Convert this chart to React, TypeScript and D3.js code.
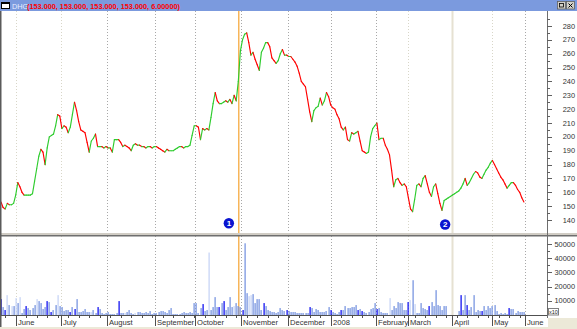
import React from "react";
import * as d3 from "d3";

// Daily closing prices (DHG), June 2007 – May 2008
const prices = [
  153, 149, 148, 152, 151, 151, 152, 158, 167, 164,
  160, 158, 158, 158, 158, 159, 168, 177, 186, 191,
  189, 180, 192, 200, 201, 202, 208, 216, 215, 206,
  208, 207, 203, 207, 216, 225, 219, 211, 205, 204,
  203, 196, 189, 197, 199, 202, 193, 193, 193, 192,
  193, 192, 192, 189, 198, 198, 198, 196, 193, 194,
  193, 192, 190, 194, 195, 194, 194, 193, 193, 192,
  193, 193, 192, 193, 193, 192, 191, 190, 189, 191,
  190, 190, 190, 191, 192, 193, 193, 192, 193, 193,
  194, 201, 208, 208, 207, 198, 206, 205, 206, 205,
  214, 224, 232, 226, 224, 224, 225, 226, 225, 227,
  224, 230, 226, 240, 262, 270, 274, 275, 268, 259,
  261, 256, 252, 248, 261, 264, 268, 268, 265, 257,
  255, 253, 255, 260, 263, 259, 259, 258, 258, 256,
  254, 251, 246, 240, 238, 236, 227, 218, 211, 219,
  221, 222, 228, 223, 226, 232, 229, 223, 221, 220,
  216, 213, 207, 205, 207, 198, 197, 203, 202, 203,
  204, 197, 190, 189, 188, 189, 200, 206, 208, 210,
  198, 199, 199, 194, 191, 187, 176, 164, 169, 170,
  167, 165, 166, 164, 156, 148, 146, 155, 165, 166,
  164, 170, 172, 166, 160, 157, 164, 166, 159, 152,
  147, 154, 155, 156, 157, 158, 159, 160, 161, 163,
  166, 170, 165, 167, 170, 173, 175, 174, 171, 170,
  173, 176, 178, 181, 183, 180, 177, 174, 171, 169,
  166, 163, 165, 167, 167, 165, 162, 160, 156, 153,
];

// Daily volumes (axis shown x10)
const volumes = [
  11200, 5600, 3500, 14000, 7000, 6300, 6300, 11900, 8400, 12600,
  1400, 4200, 6300, 4900, 3500, 4900, 7000, 11200, 9800, 8400,
  4200, 5600, 9800, 9100, 2100, 3500, 7000, 14000, 6300, 5600,
  2800, 3500, 3500, 2100, 5600, 4200, 11200, 2100, 2100, 2800,
  4200, 2100, 2100, 2100, 3500, 1400, 5600, 4200, 1400, 700,
  1400, 2100, 700, 700, 700, 1400, 9800, 1400, 1400, 1400,
  2100, 3500, 1400, 700, 1400, 2100, 2100, 1400, 1400, 2100,
  1400, 2800, 700, 1400, 1400, 2100, 2800, 2800, 2100, 1400,
  3500, 4900, 700, 700, 700, 700, 1400, 2100, 1400, 1400,
  2100, 1400, 8400, 8400, 1400, 4900, 7700, 2800, 3500, 44000,
  3500, 5600, 12600, 5600, 5600, 8400, 9800, 3500, 5600, 12600,
  5600, 6300, 8400, 6300, 5600, 3500, 50500, 15400, 13300, 14000,
  14700, 8400, 11200, 11200, 3500, 8400, 6300, 3500, 2800, 2100,
  2100, 1400, 2100, 4900, 3500, 2800, 3500, 2800, 2100, 2100,
  2100, 1400, 1400, 1400, 1400, 1400, 1400, 5600, 4900, 2100,
  4200, 3500, 2100, 2100, 2100, 2800, 5600, 3500, 2100, 1400,
  700, 2100, 3500, 3500, 6300, 4900, 4900, 5600, 5600, 7000,
  3500, 4200, 2800, 2100, 1400, 2100, 4200, 4900, 8400, 4200,
  4900, 2100, 1400, 1400, 1400, 11900, 3500, 6300, 4900, 9100,
  8400, 8400, 3500, 3500, 9100, 10500, 24500, 7700, 1400, 1400,
  8400, 4900, 4200, 3500, 6300, 9100, 6300, 17500, 7000, 6300,
  3500, 6300, 6300, 0, 0, 0, 0, 0, 2800, 14000,
  3500, 14000, 7000, 3500, 5600, 14000, 2100, 3500, 2800, 2800,
  6300, 3500, 6300, 4900, 6300, 7000, 2800, 700, 1400, 700,
  1400, 700, 4900, 4200, 4200, 1400, 2800, 2100, 2100, 2100,
];

// Volume bar shades (indices of dark and light bars; others medium)
const darkBars = [0, 2, 12, 22, 24, 33, 35, 46, 56, 96, 104, 106, 115, 125, 136, 147, 157, 162, 170, 172, 179, 194, 204, 219, 222, 229, 242];
const lightBars = [3, 5, 7, 9, 17, 27, 43, 59, 64, 99, 111, 118, 119, 185, 195, 197];

// Month boundaries on the trading-day axis
const monthTicks = [7, 28.5, 50.5, 73.5, 92.5, 114.5, 136.5, 157, 178.5, 194, 215, 234, 249.5];
const monthLabels = ["June", "July", "August", "September", "October", "November", "December", "2008", "February", "March", "April", "May", "June"];

const priceTicks = [140, 150, 160, 170, 180, 190, 200, 210, 220, 230, 240, 250, 260, 270, 280];
const volumeTicks = [10000, 20000, 30000, 40000, 50000];

// Event markers (trading-day index)
const markerDays = [108.5, 211.5];
const markerLabels = ["1", "2"];
const signalDay = 113;

const W = 577;
const H = 329;
const AXIS_X = 547;
const FONT = "'Liberation Sans', Arial, sans-serif";

export default function App() {
  const x = d3.scaleLinear().domain([0, prices.length - 1]).range([1, 523.9]);
  const y = d3.scaleLinear().domain([140, 280]).range([220, 26]);
  const vy = d3.scaleLinear().domain([0, 50000]).range([315, 244]);

  const lightGrid = new Set([0, 1, 9, 11]);
  const minorPrice = d3.range(145, 295, 10);
  const minorVol = d3.range(5000, 55000, 10000);
  const weekTicks = d3.range(2, prices.length, 5);
  const darkSet = new Set(darkBars);
  const lightSet = new Set(lightBars);

  return (
    <div style={{ position: "fixed", left: 0, top: 0 }}>
      <svg width={W} height={H} style={{ display: "block" }}>
        <rect x={0} y={0} width={W} height={H} fill="#ffffff" />
        <rect x={0} y={327} width={W} height={2} fill="#ece9d8" />
        <rect x={548} y={318} width={29} height={11} fill="#ece9d8" />

        {/* month gridlines */}
        {monthTicks.map((m, k) =>
          k === 10 ? (
            <line key={k} x1={x(m)} x2={x(m)} y1={11} y2={315} stroke="#e6e1d2" strokeWidth={2} />
          ) : (
            <line
              key={k}
              x1={Math.round(x(m)) + 0.5}
              x2={Math.round(x(m)) + 0.5}
              y1={11}
              y2={315}
              stroke={lightGrid.has(k) ? "#d8d6c8" : "#a8a8a8"}
              strokeWidth={1}
              strokeDasharray="1,2"
            />
          )
        )}

        {/* signal line */}
        <line x1={x(signalDay) + 0.5} x2={x(signalDay) + 0.5} y1={11} y2={316} stroke="#f5a330" strokeWidth={1.2} />

        {/* price line */}
        {prices.slice(1).map((p, k) => {
          const i = k + 1;
          const up = p >= prices[i - 1];
          return (
            <line
              key={i}
              x1={x(i - 1)}
              y1={y(prices[i - 1])}
              x2={x(i)}
              y2={y(p)}
              stroke={up ? "#2ecc2e" : "#ff0000"}
              strokeWidth={1.15}
              strokeLinecap="round"
            />
          );
        })}

        {/* markers */}
        {markerDays.map((d, k) => (
          <g key={k} transform={`translate(${x(d)},${k === 0 ? 223.3 : 224.5})`}>
            <circle r={5.2} fill="#0a14d0" />
            <text y={2.8} textAnchor="middle" fontFamily={FONT} fontSize={8} fontWeight="bold" fill="#ffffff">
              {markerLabels[k]}
            </text>
          </g>
        ))}

        {/* volume bars */}
        {volumes.map((v, i) =>
          v > 0 ? (
            <rect
              key={i}
              x={Math.round(x(i)) - 0.5}
              y={vy(v)}
              width={1.2}
              height={315 - vy(v)}
              fill={darkSet.has(i) ? "#0000f0" : lightSet.has(i) ? "#c4d2f6" : "#6f8ede"}
            />
          ) : null
        )}

        {/* panel separator */}
        <rect x={0} y={233} width={W} height={2} fill="#d0ccc4" />
        <rect x={0} y={235} width={W} height={1.5} fill="#6e6e6e" />

        {/* right axis */}
        <line x1={AXIS_X + 0.5} x2={AXIS_X + 0.5} y1={11} y2={318} stroke="#6e6e6e" strokeWidth={1} />
        {priceTicks.map((t) => (
          <g key={t}>
            <line x1={AXIS_X} x2={AXIS_X + 5} y1={Math.round(y(t)) + 0.5} y2={Math.round(y(t)) + 0.5} stroke="#606060" />
            <text x={575} y={y(t) + 2.6} textAnchor="end" fontFamily={FONT} fontSize={7.4} fill="#333">
              {t}
            </text>
          </g>
        ))}
        {minorPrice.map((t) => (
          <line key={t} x1={AXIS_X} x2={AXIS_X + 3} y1={Math.round(y(t)) + 0.5} y2={Math.round(y(t)) + 0.5} stroke="#606060" />
        ))}
        {volumeTicks.map((t) => (
          <g key={t}>
            <line x1={AXIS_X} x2={AXIS_X + 5} y1={Math.round(vy(t)) + 0.5} y2={Math.round(vy(t)) + 0.5} stroke="#606060" />
            <text x={575} y={vy(t) + 2.6} textAnchor="end" fontFamily={FONT} fontSize={7.4} fill="#333">
              {t}
            </text>
          </g>
        ))}
        {minorVol.map((t) => (
          <line key={t} x1={AXIS_X} x2={AXIS_X + 3} y1={Math.round(vy(t)) + 0.5} y2={Math.round(vy(t)) + 0.5} stroke="#606060" />
        ))}
        <rect x={548.5} y={308.5} width={10} height={6.5} fill="#ffffff" stroke="#808080" />
        <text x={553.5} y={314} textAnchor="middle" fontFamily={FONT} fontSize={5.5} fill="#222">
          x10
        </text>

        {/* bottom axis */}
        <line x1={0} x2={AXIS_X} y1={315.5} y2={315.5} stroke="#505050" />
        {weekTicks.map((w) => (
          <line key={w} x1={Math.round(x(w)) + 0.5} x2={Math.round(x(w)) + 0.5} y1={315} y2={318} stroke="#505050" />
        ))}
        {monthTicks.map((m, k) => (
          <g key={k}>
            <line x1={Math.round(x(m)) + 0.5} x2={Math.round(x(m)) + 0.5} y1={315} y2={326} stroke="#505050" />
            <text x={Math.round(x(m)) + 2} y={325} fontFamily={FONT} fontSize={7.6} fill="#333">
              {monthLabels[k]}
            </text>
          </g>
        ))}

        {/* title bar */}
        <rect x={0} y={0} width={W} height={11} fill="#7b9ade" />
        <rect x={1.5} y={2.5} width={8} height={6} fill="#ffffff" stroke="#000" />
        <rect x={1.5} y={2.5} width={8} height={1.5} fill="#000" />
        <text x={12} y={8.6} fontFamily={FONT} fontSize={7.3} fill="#e8eeff">
          DHG
        </text>
        <text x={27} y={8.6} fontFamily={FONT} fontSize={7.3} fontWeight="bold" fill="#ff0000">
          (153.000, 153.000, 153.000, 153.000, 6.00000)
        </text>
        <rect x={557.5} y={1.5} width={8} height={7.5} fill="#d4d0c8" stroke="#606060" strokeWidth={0.8} />
        <rect x={559.5} y={3.5} width={4} height={3.5} fill="none" stroke="#000" strokeWidth={0.8} />
        <rect x={566.5} y={1.5} width={8} height={7.5} fill="#d4d0c8" stroke="#606060" strokeWidth={0.8} />
        <path d="M568.5,3.5 L572.5,7.5 M572.5,3.5 L568.5,7.5" stroke="#000" strokeWidth={1} />

        {/* left border */}
        <rect x={0} y={11} width={1.5} height={316} fill="#5a5a5a" />
      </svg>
    </div>
  );
}
